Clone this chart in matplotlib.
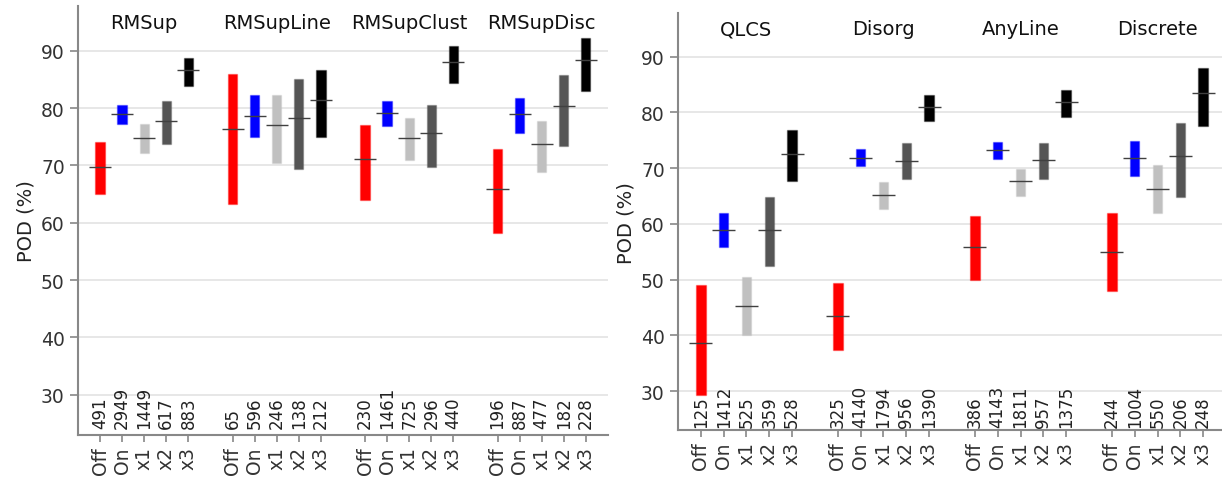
import numpy as np
import matplotlib
matplotlib.use("Agg")
import matplotlib.pyplot as plt
from matplotlib.colors import to_rgba

modes = ['Off', 'On', 'x1', 'x2', 'x3']
mode_colors = ['#ff0000', '#0000ff', '#c0c0c0', '#555555', '#000000']

# left panel: rotating-supercell subsets
groups_left = ['RMSup', 'RMSupLine', 'RMSupClust', 'RMSupDisc']
lo_left = [[65.0, 77.3, 72.1, 73.8, 83.8],
           [63.2, 74.9, 70.5, 69.3, 74.9],
           [63.9, 76.8, 71.0, 69.8, 84.4],
           [58.2, 75.7, 68.9, 73.3, 83.0]]
hi_left = [[74.0, 80.5, 77.2, 81.2, 88.8],
           [86.0, 82.2, 82.2, 85.0, 86.6],
           [77.1, 81.3, 78.2, 80.6, 90.8],
           [72.8, 81.7, 77.7, 85.8, 92.3]]
med_left = [[69.7, 78.9, 74.7, 77.7, 86.6],
            [76.4, 78.7, 77.0, 78.2, 81.4],
            [71.1, 79.2, 74.8, 75.6, 88.1],
            [65.9, 78.9, 73.7, 80.3, 88.4]]
n_left = [[491, 2949, 1449, 617, 883],
          [65, 596, 246, 138, 212],
          [230, 1461, 725, 296, 440],
          [196, 887, 477, 182, 228]]

# right panel: storm mode
groups_right = ['QLCS', 'Disorg', 'AnyLine', 'Discrete']
lo_right = [[29.3, 55.8, 40.1, 52.5, 67.7],
            [37.4, 70.4, 62.6, 68.0, 78.5],
            [50.0, 71.6, 65.0, 68.0, 79.2],
            [48.0, 68.6, 61.9, 64.8, 77.6]]
hi_right = [[49.1, 61.9, 50.5, 64.8, 76.8],
            [49.4, 73.4, 67.5, 74.5, 83.1],
            [61.4, 74.7, 69.9, 74.5, 84.0],
            [62.0, 74.9, 70.6, 78.1, 87.9]]
med_right = [[38.6, 58.9, 45.3, 58.9, 72.5],
             [43.4, 71.8, 65.1, 71.3, 80.9],
             [55.8, 73.3, 67.6, 71.5, 81.8],
             [54.9, 71.8, 66.3, 72.1, 83.4]]
n_right = [[125, 1412, 525, 359, 528],
           [325, 4140, 1794, 956, 1390],
           [386, 4143, 1811, 957, 1375],
           [244, 1004, 550, 206, 248]]


def draw_panel(ax, groups, lo, hi, med, counts, count_y):
    ticks = []
    labels = []
    for g, name in enumerate(groups):
        x0 = 6 * g
        for i in range(len(modes)):
            x = x0 + i
            c = mode_colors[i]
            ax.bar(x, hi[g][i] - lo[g][i], bottom=lo[g][i], width=0.42,
                   color=c, edgecolor=to_rgba(c, 0.35), linewidth=1.0, zorder=3)
            ax.hlines(med[g][i], x - 0.5, x + 0.5, color='0.25', lw=1.0, zorder=4)
            ax.text(x, count_y, str(counts[g][i]), rotation=90, ha='center',
                    va='bottom', fontsize=12, color='#222222')
            ticks.append(x)
            labels.append(modes[i])
        ax.text(x0 + 2, 95, name, ha='center', va='center', fontsize=14, color='#111111')

    ax.set_xticks(ticks)
    ax.set_xticklabels(labels, rotation=90, fontsize=13.5, color='#333333')
    ax.set_xlim(-1, 23)
    ax.set_ylim(23, 97.8)
    ax.set_yticks(np.arange(30, 100, 10))
    ax.tick_params(axis='y', labelsize=13.5, labelcolor='#333333', color='#888888',
                   length=6, width=1.2)
    ax.tick_params(axis='x', color='#888888', length=5, width=1.2, pad=3)
    ax.set_ylabel('POD (%)', fontsize=14, color='#222222')
    ax.grid(axis='y', color='#e3e3e3', lw=1.2, zorder=0)
    ax.set_axisbelow(True)
    for s in ['top', 'right']:
        ax.spines[s].set_visible(False)
    for s in ['left', 'bottom']:
        ax.spines[s].set_color('#888888')
        ax.spines[s].set_linewidth(1.5)


fig = plt.figure(figsize=(12.22, 4.81), dpi=100)
ax1 = fig.add_axes([0.0638, 0.0936, 0.4337, 0.8919])
ax2 = fig.add_axes([0.5548, 0.1033, 0.4485, 0.8676])

draw_panel(ax1, groups_left, lo_left, hi_left, med_left, n_left, 24.3)
draw_panel(ax2, groups_right, lo_right, hi_right, med_right, n_right, 23.6)

fig.savefig('out.png', dpi=100)
